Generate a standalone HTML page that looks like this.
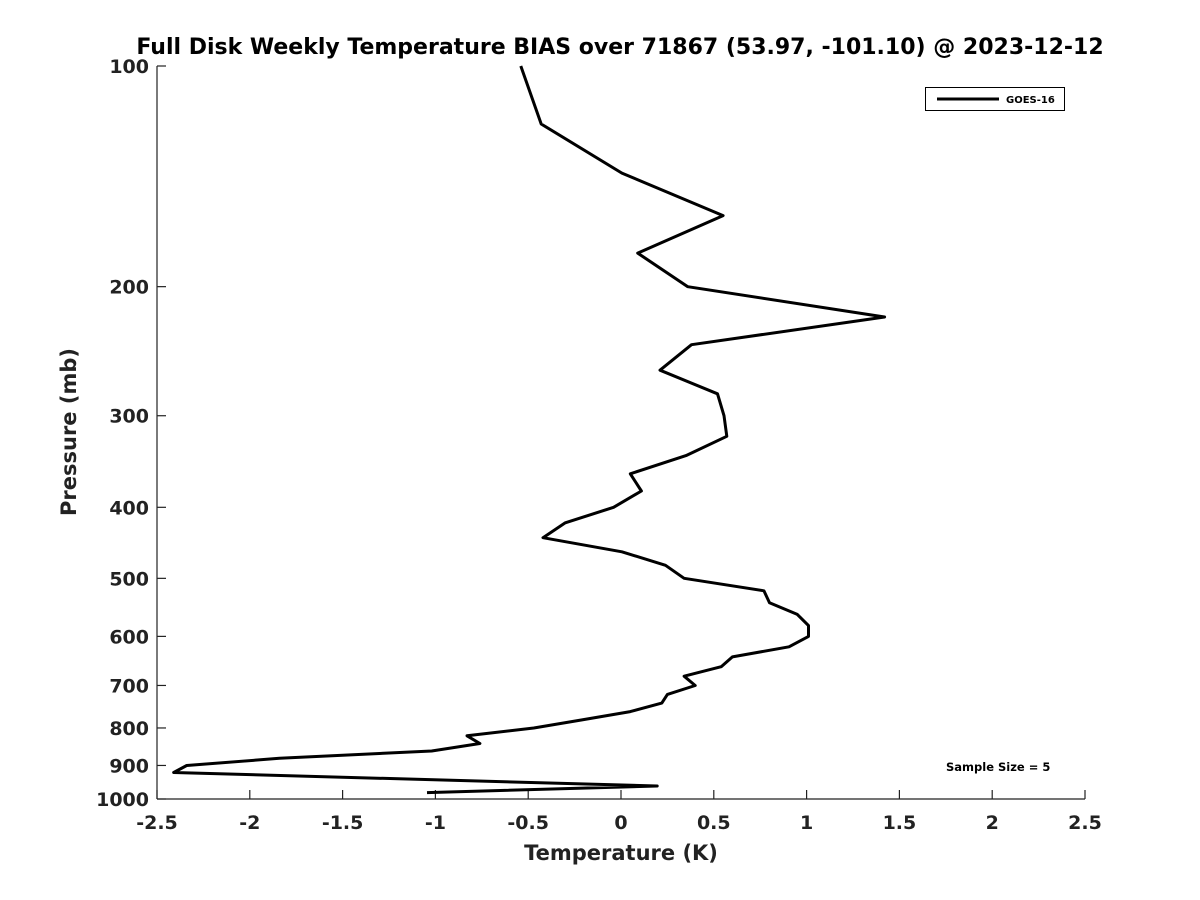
<!DOCTYPE html>
<html><head><meta charset="utf-8"><style>
body{margin:0;background:#fff;}
svg{display:block;font-family:"DejaVu Sans","Liberation Sans",sans-serif;}
</style></head><body>
<svg id="chart" width="1200" height="900" viewBox="0 0 1200 900">
<rect width="1200" height="900" fill="#fff"/>
<text x="620" y="54" text-anchor="middle" font-size="22" font-weight="bold" fill="#000">Full Disk Weekly Temperature BIAS over 71867 (53.97, -101.10) @ 2023-12-12</text>
<g id="axes"></g>
<path id="series" fill="none" stroke="#000" stroke-width="3" stroke-linejoin="round"/>
<g>
<rect x="925.5" y="87.5" width="139" height="23" fill="#fff" stroke="#000" stroke-width="1"/>
<line x1="937" y1="99" x2="999" y2="99" stroke="#000" stroke-width="3"/>
<text x="1006" y="103" font-size="10" font-weight="bold">GOES-16</text>
</g>
<text x="946" y="771" font-size="11.5" font-weight="bold">Sample Size = 5</text>
<text x="621" y="860" text-anchor="middle" font-size="21" font-weight="bold" fill="#222">Temperature (K)</text>
<text transform="translate(76,432) rotate(-90)" text-anchor="middle" font-size="21" font-weight="bold" fill="#222">Pressure (mb)</text>
</svg>
<script>
const temps=[-0.54,-0.43,0.005,0.55,0.09,0.36,1.42,0.38,0.21,0.52,0.555,0.57,0.35,0.05,0.11,-0.04,-0.30,-0.42,0.005,0.24,0.34,0.77,0.80,0.95,1.01,1.01,0.905,0.60,0.54,0.34,0.40,0.25,0.22,0.05,-0.21,-0.47,-0.83,-0.76,-1.02,-1.84,-2.34,-2.41,0.195,-1.045];
const pressures=[100,120,140,160,180,200,220,240,260,280,300,320,340,360,380,400,420,440,460,480,500,520,540,560,580,600,620,640,660,680,700,720,740,760,780,800,820,840,860,880,900,920,960,980];
const xTicks=[-2.5,-2,-1.5,-1,-0.5,0,0.5,1,1.5,2,2.5];
const yTicks=[100,200,300,400,500,600,700,800,900,1000];
const X0=157,X1=1085,Y0=66,Y1=799;
const xs=v=>X0+(v+2.5)/5*(X1-X0);
const ys=p=>Y0+Math.log10(p/100)*(Y1-Y0);
const NS="http://www.w3.org/2000/svg";
const ax=document.getElementById('axes');
function mk(t,a){const e=document.createElementNS(NS,t);for(const k in a)e.setAttribute(k,a[k]);ax.appendChild(e);return e;}
let l=mk('line',{x1:X0,y1:Y0,x2:X0,y2:Y1,stroke:'#222','stroke-width':1.2});


l=mk('line',{x1:X0,y1:Y1,x2:X1,y2:Y1,stroke:'#222','stroke-width':1.2});


xTicks.forEach(v=>{
 const x=xs(v);
 mk('line',{x1:x,y1:Y1,x2:x,y2:Y1-9,stroke:'#222','stroke-width':1.2});
 const t=mk('text',{x:x,y:Y1+30,'text-anchor':'middle','font-size':19,'font-weight':'bold',fill:'#222'});
 t.textContent=String(v);
 
 
});
yTicks.forEach(p=>{
 const y=ys(p);
 mk('line',{x1:X0,y1:y,x2:X0+9,y2:y,stroke:'#222','stroke-width':1.2});
 const t=mk('text',{x:X0-8,y:y+7,'text-anchor':'end','font-size':19,'font-weight':'bold',fill:'#222'});
 t.textContent=String(p);
 
 
});
document.getElementById('series').setAttribute('d',temps.map((t,i)=>(i?'L':'M')+xs(t).toFixed(1)+','+ys(pressures[i]).toFixed(1)).join(''));
</script>
</body></html>
